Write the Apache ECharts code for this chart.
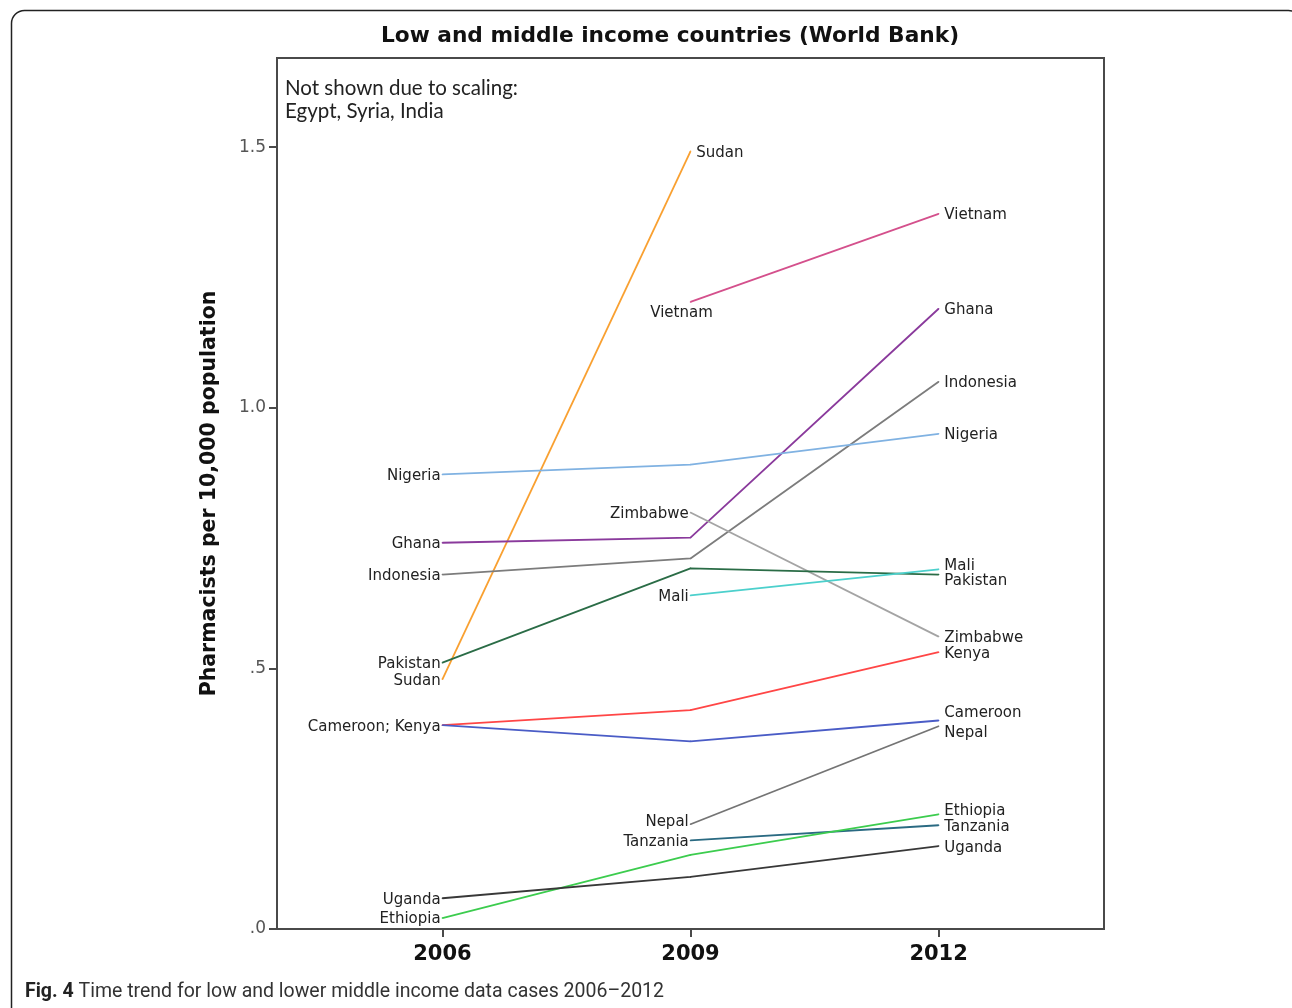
<!DOCTYPE html>
<html>
<head>
<meta charset="utf-8">
<style>
html,body{margin:0;padding:0;background:#fff;}
#chart{width:1292px;height:1008px;}
</style>
<script src="https://cdn.jsdelivr.net/npm/echarts@6/dist/echarts.min.js"></script>
</head>
<body>
<div id="chart"></div>
<script>
// ---- Data ----
var years = [2006, 2009, 2012];
var countries = ['Sudan','Vietnam','Ghana','Indonesia','Nigeria','Zimbabwe','Pakistan','Mali','Kenya','Cameroon','Nepal','Tanzania','Ethiopia','Uganda'];
var sudan     = [0.479, 1.492, null];
var vietnam   = [null, 1.203, 1.372];
var ghana     = [0.741, 0.751, 1.190];
var indonesia = [0.680, 0.711, 1.050];
var nigeria   = [0.872, 0.891, 0.950];
var zimbabwe  = [null, 0.799, 0.561];
var pakistan  = [0.511, 0.692, 0.680];
var mali      = [null, 0.640, 0.690];
var kenya     = [0.391, 0.420, 0.531];
var cameroon  = [0.391, 0.360, 0.400];
var nepal     = [null, 0.201, 0.389];
var tanzania  = [null, 0.170, 0.199];
var ethiopia  = [0.021, 0.142, 0.220];
var uganda    = [0.059, 0.100, 0.159];
var yTicks = [0, 0.5, 1.0, 1.5];
var yTickLabels = ['.0', '.5', '1.0', '1.5'];
var titleText = 'Low and middle income countries (World Bank)';
var noteLines = ['Not shown due to scaling:', 'Egypt, Syria, India'];
var yName = 'Pharmacists per 10,000 population';
var captionBold = 'Fig. 4';
var captionText = ' Time trend for low and lower middle income data cases 2006\u20132012';

var valuesByCountry = {
  Sudan: sudan, Vietnam: vietnam, Ghana: ghana, Indonesia: indonesia, Nigeria: nigeria,
  Zimbabwe: zimbabwe, Pakistan: pakistan, Mali: mali, Kenya: kenya, Cameroon: cameroon,
  Nepal: nepal, Tanzania: tanzania, Ethiopia: ethiopia, Uganda: uganda
};

// ---- Styles ----
var colors = {
  Sudan: '#f9a030', Vietnam: '#d4508c', Ghana: '#8a3a9c', Indonesia: '#7c7c7c',
  Nigeria: '#80b2e2', Zimbabwe: '#a4a4a4', Pakistan: '#2a6c46', Mali: '#4cd0cc',
  Kenya: '#ff4646', Cameroon: '#4a5cc6', Nepal: '#747474', Tanzania: '#2a6a82',
  Ethiopia: '#3ccc4e', Uganda: '#383838'
};
var labelCfg = {
  Sudan:    {start: {}, end: {}},
  Vietnam:  {start: {position: 'bottom', offset: [-9, 0]}, end: {}},
  Ghana:    {start: {}, end: {}},
  Indonesia:{start: {}, end: {}},
  Nigeria:  {start: {}, end: {}},
  Zimbabwe: {start: {}, end: {}},
  Pakistan: {start: {}, end: {offset: [0, 5]}},
  Mali:     {start: {}, end: {offset: [0, -5]}},
  Kenya:    {start: {text: 'Cameroon; Kenya'}, end: {}},
  Cameroon: {start: {hide: true}, end: {offset: [0, -9]}},
  Nepal:    {start: {offset: [0, -4]}, end: {offset: [0, 5]}},
  Tanzania: {start: {}, end: {}},
  Ethiopia: {start: {}, end: {offset: [0, -5]}},
  Uganda:   {start: {}, end: {}}
};
var labelFont = {fontFamily: 'DejaVu Sans', fontSize: 15, color: '#222'};
var labelBaseShiftY = 1.5;

var series = countries.map(function (c) {
  var vals = valuesByCountry[c];
  var pts = [];
  years.forEach(function (y, i) { if (vals[i] !== null) pts.push([y, vals[i]]); });
  var cfg = labelCfg[c];
  var data = pts.map(function (p, i) {
    var item = {value: p};
    var isStart = i === 0, isEnd = i === pts.length - 1;
    var lc = isStart ? cfg.start : (isEnd ? cfg.end : null);
    if (lc && !lc.hide) {
      var txt = lc.text || c;
      var off = lc.offset || [0, 0];
      item.label = Object.assign({
        show: true,
        position: lc.position || (isStart ? 'left' : 'right'),
        distance: isStart ? 1 : 5,
        offset: [off[0], off[1] + labelBaseShiftY],
        formatter: function () { return txt; }
      }, labelFont);
    } else {
      item.label = {show: false};
    }
    return item;
  });
  return {
    name: c, type: 'line', data: data, symbol: 'circle', showSymbol: true,
    symbolSize: 1.5,
    lineStyle: {color: colors[c], width: 1.8},
    itemStyle: {color: colors[c]},
    silent: true, animation: false, z: 3
  };
});

var chart = echarts.init(document.getElementById('chart'), null, {renderer: 'canvas'});
chart.setOption({
  backgroundColor: '#fff',
  animation: false,
  grid: {left: 277, top: 58, width: 827, height: 871, show: true, borderColor: '#4a4a4a', borderWidth: 2, backgroundColor: 'transparent', containLabel: false},
  xAxis: {
    type: 'value', min: 2004, max: 2014,
    splitLine: {show: false},
    axisLine: {show: true, lineStyle: {color: '#4a4a4a', width: 2}},
    axisTick: {show: true, customValues: years, length: 8, inside: false, lineStyle: {color: '#4a4a4a', width: 2}},
    axisLabel: {customValues: years, margin: 15, fontFamily: 'DejaVu Sans', fontWeight: 'bold', fontSize: 21, color: '#111',
      formatter: function (v) { return String(v); }}
  },
  yAxis: {
    type: 'value', min: 0, max: 1.671,
    name: yName, nameLocation: 'middle', nameGap: 57, nameRotate: 90,
    nameTextStyle: {fontFamily: 'DejaVu Sans', fontWeight: 'bold', fontSize: 20.5, color: '#111'},
    splitLine: {show: false},
    axisLine: {show: true, lineStyle: {color: '#4a4a4a', width: 2}},
    axisTick: {show: true, customValues: yTicks, length: 8, lineStyle: {color: '#4a4a4a', width: 2}},
    axisLabel: {customValues: yTicks, margin: 11, fontFamily: 'DejaVu Sans', fontSize: 17, color: '#555',
      formatter: function (v) { var i = yTicks.indexOf(v); return i >= 0 ? yTickLabels[i] : ''; }}
  },
  graphic: [
    {type: 'rect', left: 9, top: 8, shape: {width: 1290, height: 1012, r: 13}, style: {fill: 'none', stroke: '#222', lineWidth: 1.5}, z: -1, silent: true},
    {type: 'text', x: 670, y: 25, style: {text: titleText, textAlign: 'center', fontFamily: 'DejaVu Sans', fontWeight: 'bold', fontSize: 21.7, fill: '#111'}},
    {type: 'text', left: 285, top: 77, style: {text: noteLines.join('\n'), fontFamily: 'Lato', fontSize: 20.5, lineHeight: 23, fill: '#222'}},
    {type: 'text', left: 25, top: 982, style: {
      text: '{b|' + captionBold + '}{n|' + captionText + '}',
      rich: {
        b: {fontFamily: 'Roboto', fontWeight: 'bold', fontSize: 19.5, fill: '#222'},
        n: {fontFamily: 'Roboto', fontSize: 19.5, fill: '#333'}
      }}}
  ],
  series: series
});
</script>
</body>
</html>
